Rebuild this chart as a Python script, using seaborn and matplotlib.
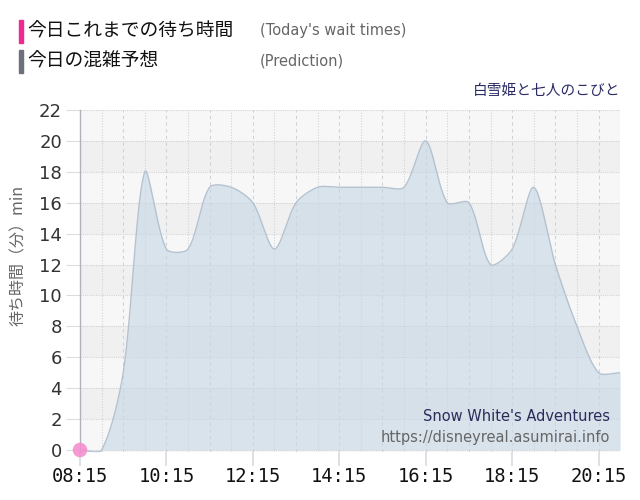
import matplotlib
matplotlib.use("Agg")
import matplotlib.pyplot as plt
import numpy as np
import pandas as pd
import seaborn as sns

# data (30-minute steps, 08:15 - 20:45)
times = ['08:15', '08:45', '09:15', '09:45', '10:15', '10:45', '11:15', '11:45',
         '12:15', '12:45', '13:15', '13:45', '14:15', '14:45', '15:15', '15:45',
         '16:15', '16:45', '17:15', '17:45', '18:15', '18:45', '19:15', '19:45',
         '20:15', '20:45']
prediction = [0, 0, 5, 18, 13, 13, 17, 17,
              16, 13, 16, 17, 17, 17, 17, 17,
              20, 16, 16, 12, 13, 17, 12, 8,
              5, 5]
today_times = ['08:15']
today_waits = [0]
tick_labels = ['08:15', '10:15', '12:15', '14:15', '16:15', '18:15', '20:15']


def to_min(t):
    h, m = t.split(':')
    return int(h) * 60 + int(m)


df = pd.DataFrame({'t': [to_min(t) for t in times], 'wait': prediction})
today = pd.DataFrame({'t': [to_min(t) for t in today_times], 'wait': today_waits})


def smooth_curve(ax, x, y, tension=0.28, n=24):
    # tension spline computed in screen space, then mapped back to data space
    pts = ax.transData.transform(np.column_stack([x, y]).astype(float))
    k = len(pts)
    cprev = pts.copy()
    cnext = pts.copy()
    for i in range(k):
        p0 = pts[max(i - 1, 0)]
        p1 = pts[i]
        p2 = pts[min(i + 1, k - 1)]
        d01 = np.hypot(*(p1 - p0))
        d12 = np.hypot(*(p2 - p1))
        tot = d01 + d12
        s01 = d01 / tot if tot else 0
        s12 = d12 / tot if tot else 0
        cprev[i] = p1 - tension * s01 * (p2 - p0)
        cnext[i] = p1 + tension * s12 * (p2 - p0)
    s = np.linspace(0, 1, n, endpoint=False)[:, None]
    b = np.hstack([(1 - s) ** 3, 3 * s * (1 - s) ** 2, 3 * s ** 2 * (1 - s), s ** 3])
    segs = [b @ np.array([pts[i], cnext[i], cprev[i + 1], pts[i + 1]]) for i in range(k - 1)]
    segs.append(pts[-1:])
    out = ax.transData.inverted().transform(np.vstack(segs))
    return out[:, 0], out[:, 1]


sns.set_theme(style="white")
plt.rcParams['font.family'] = ['DejaVu Sans', 'Noto Sans CJK JP']
jp = ['Noto Sans CJK JP', 'DejaVu Sans']

fig = plt.figure(figsize=(6.4, 5), dpi=100)
ax = fig.add_axes([0.125, 0.096, 0.844, 0.684])

x0, x1 = df['t'].min(), df['t'].max()
ax.set_xlim(x0, x1)
ax.set_ylim(-0.13, 22)
ax.set_facecolor('#f7f7f7')

# alternating background bands
for lo in range(18, -1, -4):
    ax.axhspan(lo, lo + 2, color='#f0f0f0', zorder=0, lw=0)

# grid
for yv in range(0, 23, 2):
    ax.axhline(yv, color='#d4d4d4', lw=0.8, ls=(0, (1, 1)), zorder=1)
for i, xv in enumerate(range(x0, x1 + 1, 30)):
    ax.axvline(xv, color='#cfd3d8', lw=0.8,
               ls=(0, (3, 3)) if i % 2 == 0 else (0, (1, 1.5)), zorder=1)

# prediction area
sx, sy = smooth_curve(ax, df['t'], df['wait'])
ax.fill_between(sx, sy, 0, color='#c7d7e6', alpha=0.62, lw=0, zorder=2)
smooth = pd.DataFrame({'t': sx, 'wait': sy})
sns.lineplot(data=smooth, x='t', y='wait', ax=ax, color='#b4c2d0',
             lw=1.0, zorder=3, sort=False)

# today's wait times
sns.scatterplot(data=today, x='t', y='wait', ax=ax, color='#f48fcf', s=110,
                edgecolor='none', alpha=0.9, zorder=5, clip_on=False)

# axes styling
for side in ['top', 'right', 'bottom']:
    ax.spines[side].set_visible(False)
ax.spines['left'].set_color('#b0b4ba')
ax.spines['left'].set_linewidth(1)
ax.set_xticks([to_min(t) for t in tick_labels])
ax.set_xticklabels(tick_labels, fontsize=13.5, color='#111111', family='DejaVu Sans Mono')
ax.set_yticks(range(0, 23, 2))
ax.tick_params(axis='y', labelsize=13, colors='#333333', length=10,
               color='#dcdcdc', width=0.8, pad=3, left=True)
ax.tick_params(axis='x', length=10, color='#d8dce0', pad=1, direction='out', bottom=True)
ax.set_xlabel('')
ax.set_ylabel('')
fig.text(18 / 640, 1 - 255 / 500, '待ち時間（分）min', fontsize=11.5, color='#666666',
         family=jp, rotation=90, ha='center', va='center')

# header
fig.patches.append(plt.Rectangle((19 / 640, 1 - 43 / 500), 4 / 640, 23 / 500,
                                 transform=fig.transFigure, color='#ee2a8e'))
fig.patches.append(plt.Rectangle((19 / 640, 1 - 73 / 500), 4 / 640, 23 / 500,
                                 transform=fig.transFigure, color='#6c707c'))
fig.text(27 / 640, 1 - 31 / 500, '今日これまでの待ち時間', fontsize=13.5, family=jp,
         color='#111111', va='center')
fig.text(260 / 640, 1 - 31 / 500, "(Today's wait times)", fontsize=10.5,
         color='#666666', va='center')
fig.text(27 / 640, 1 - 61 / 500, '今日の混雑予想', fontsize=13.5, family=jp,
         color='#111111', va='center')
fig.text(260 / 640, 1 - 61 / 500, '(Prediction)', fontsize=10.5,
         color='#666666', va='center')
fig.text(620 / 640, 1 - 91 / 500, '白雪姫と七人のこびと', fontsize=10.6, family=jp,
         color='#2b2b66', va='center', ha='right')

# watermark
ax.text(0.982, 0.105, "Snow White's Adventures", transform=ax.transAxes,
        fontsize=10.5, color='#2b2b5a', ha='right', va='center')
ax.text(0.982, 0.043, 'https://disneyreal.asumirai.info', transform=ax.transAxes,
        fontsize=10.5, color='#666666', ha='right', va='center')

fig.savefig('out.png', dpi=100)
